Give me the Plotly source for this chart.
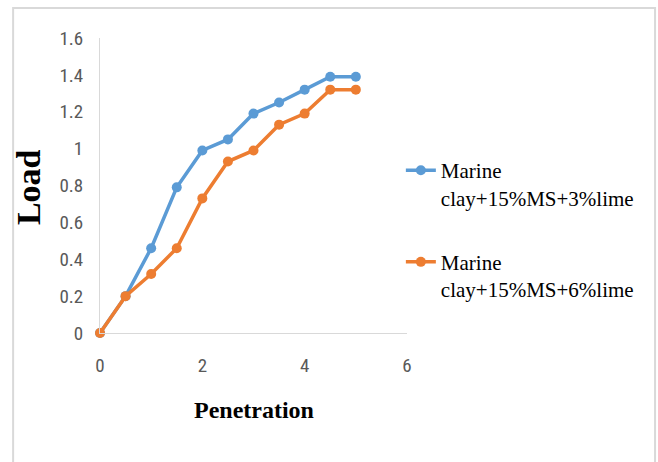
import plotly.graph_objects as go

penetration = [0, 0.5, 1, 1.5, 2, 2.5, 3, 3.5, 4, 4.5, 5]
load_3pct = [0, 0.2, 0.46, 0.79, 0.99, 1.05, 1.19, 1.25, 1.32, 1.39, 1.39]
load_6pct = [0, 0.2, 0.32, 0.46, 0.73, 0.93, 0.99, 1.13, 1.19, 1.32, 1.32]
names = ["Marine<br>clay+15%MS+3%lime", "Marine<br>clay+15%MS+6%lime"]
colors = ["#5B9BD5", "#ED7D31"]

fig = go.Figure()
for i, (ys, nm, c) in enumerate(zip([load_3pct, load_6pct], names, colors)):
    fig.add_trace(go.Scatter(x=penetration, y=ys, name=nm, mode="lines+markers",
                             legendgroup=f"g{i}", cliponaxis=False,
                             line=dict(color=c, width=3.5),
                             marker=dict(color=c, size=10, symbol="circle")))

tickfont = dict(family="Liberation Sans Narrow, Roboto Condensed, Liberation Sans, sans-serif",
                size=19, color="#595959")
fig.update_layout(
    width=658, height=462,
    margin=dict(l=100, r=251, t=38, b=129),
    paper_bgcolor="white", plot_bgcolor="white",
    showlegend=True,
    legend=dict(x=0.98, y=0.62, xanchor="left", yanchor="top",
                font=dict(family="Liberation Serif", size=21, color="#000000"),
                valign="top", tracegroupgap=34, itemwidth=30, bgcolor="rgba(0,0,0,0)"),
    xaxis=dict(range=[0, 6], tickvals=[0, 2, 4, 6], showgrid=False, zeroline=False,
               showline=True, linecolor="#d9d9d9", linewidth=1, ticks="",
               tickfont=tickfont, ticklabelstandoff=15),
    yaxis=dict(range=[0, 1.6], dtick=0.2, showgrid=False, zeroline=False,
               showline=True, linecolor="#d9d9d9", linewidth=1, ticks="",
               tickfont=tickfont, ticklabelstandoff=12),
    annotations=[
        dict(text="<b>Penetration</b>", xref="paper", yref="paper", x=0.5, y=-0.261,
             showarrow=False, xanchor="center", yanchor="middle",
             font=dict(family="Liberation Serif", size=24, color="#000000")),
        dict(text="<b>Load</b>", xref="paper", yref="paper", x=-0.231, y=0.495, textangle=-90,
             showarrow=False, xanchor="center", yanchor="middle",
             font=dict(family="Liberation Serif", size=34, color="#000000")),
    ],
    shapes=[dict(type="rect", xref="paper", yref="paper", x0=-0.283, x1=1.808, y0=-0.5, y1=1.1017,
                 line=dict(color="#d9d9d9", width=2), layer="below")],
)

fig.write_html("out.html")
